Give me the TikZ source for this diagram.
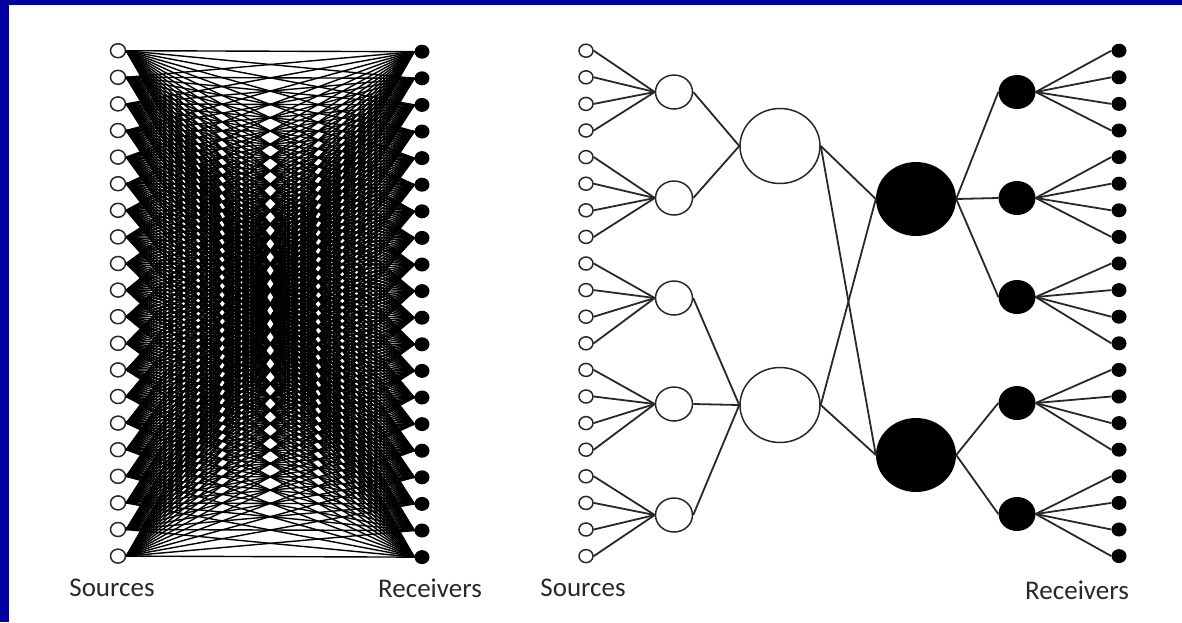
\documentclass[tikz,border=0pt]{standalone}
\usepackage{fontspec}
\setmainfont{Carlito}
\usetikzlibrary{shapes.geometric}
\definecolor{frameblue}{RGB}{0,0,160}
\definecolor{inkgray}{RGB}{40,40,40}

\begin{document}
\begin{tikzpicture}[x=1pt,y=-1pt,
  src/.style={ellipse,draw=inkgray,line width=1.5pt,fill=white,inner sep=0pt,minimum width=15pt,minimum height=14pt},
  rcv/.style={ellipse,fill=black,inner sep=0pt,minimum width=16pt,minimum height=15pt},
  hubopen/.style={ellipse,draw=inkgray,line width=1.5pt,fill=white,inner sep=0pt},
  hubfull/.style={ellipse,fill=black,inner sep=0pt},
  link/.style={draw=inkgray,line width=1.8pt},
  label/.style={text=inkgray,font=\fontsize{27}{30}\selectfont}]
  \fill[frameblue] (0,0) rectangle (1182,622);
  \fill[white] (9,5) rectangle (1182,622);
  \useasboundingbox (0,0) rectangle (1182,622);

  % full mesh
  \foreach \i in {1,...,20} {
    \node[src] (ls\i) at (118,{50.7+26.6*(\i-1)}) {};
    \node[rcv,minimum width=15pt,minimum height=14pt] (lr\i) at (422,{51.7+26.6*(\i-1)}) {};
  }
  \foreach \i in {1,...,20}
    \foreach \j in {1,...,20}
      \draw[line width=1.4pt] (ls\i.east) -- (lr\j.west);
  \node[label] (lsrc) at (112,588) {Sources};
  \node[label] (lrcv) at (430,588) {Receivers};

  % tree
  \foreach \i in {1,...,20} {
    \node[src,minimum width=14pt,minimum height=13pt] (rs\i) at (586,{50.7+26.6*(\i-1)}) {};
    \node[rcv,minimum width=15pt,minimum height=14pt] (rr\i) at (1119,{50.7+26.6*(\i-1)}) {};
  }
  \foreach \y [count=\k] in {92,198,298,404,515} {
    \node[hubopen,minimum width=37pt,minimum height=34pt] (a\k) at (674,\y) {};
  }
  \foreach \y [count=\k] in {92,198,297,403,514} {
    \node[hubfull,minimum width=37pt,minimum height=34pt] (d\k) at (1017,\y) {};
  }
  \node[hubopen,minimum width=80pt,minimum height=75pt] (b1) at (780,146) {};
  \node[hubopen,minimum width=80pt,minimum height=75pt] (b2) at (780,405) {};
  \node[hubfull,minimum width=80pt,minimum height=74pt] (c1) at (916,199) {};
  \node[hubfull,minimum width=80pt,minimum height=74pt] (c2) at (916,455) {};

  \foreach \k in {1,...,5}
    \foreach \m in {1,...,4} {
      \pgfmathtruncatemacro{\n}{4*(\k-1)+\m}
      \draw[link] (rs\n.east) -- (a\k.west);
      \draw[link] (d\k.east) -- (rr\n.west);
    }
  \draw[link] (a1.east) -- (b1.west);
  \draw[link] (a2.east) -- (b1.west);
  \draw[link] (a3.east) -- (b2.west);
  \draw[link] (a4.east) -- (b2.west);
  \draw[link] (a5.east) -- (b2.west);
  \draw[link] (b1.east) -- (c1.west);
  \draw[link] (b1.east) -- (c2.west);
  \draw[link] (b2.east) -- (c1.west);
  \draw[link] (b2.east) -- (c2.west);
  \draw[link] (c1.east) -- (d1.west);
  \draw[link] (c1.east) -- (d2.west);
  \draw[link] (c1.east) -- (d3.west);
  \draw[link] (c2.east) -- (d4.west);
  \draw[link] (c2.east) -- (d5.west);

  \node[label] (rsrc) at (583,588) {Sources};
  \node[label] (rrcv) at (1077,590) {Receivers};
\end{tikzpicture}
\end{document}
